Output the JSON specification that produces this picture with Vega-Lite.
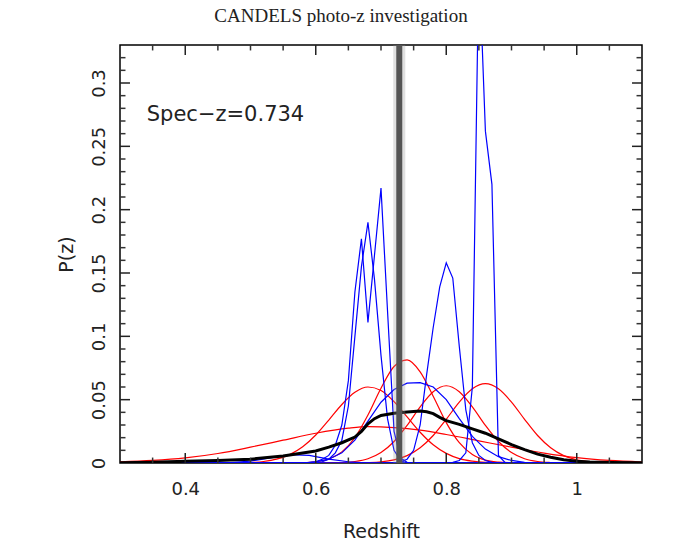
{
"$schema":"https://vega.github.io/schema/vega-lite/v6.json",
"width":522,"height":418,
"autosize":{"type":"none"},
"padding":{"left":120,"top":45,"right":31,"bottom":82},
"background":"white",
"title":{"text":"CANDELS photo-z investigation","font":"Liberation Serif","fontSize":19,"fontWeight":"normal","color":"#222","offset":13,"dx":-40},
"config":{"view":{"stroke":"black","strokeWidth":1.5},"axis":{"grid":false,"domain":false,"ticks":false,"tickSize":0,"labelFont":"DejaVu Sans","labelFontSize":18,"labelColor":"#222","titleFont":"DejaVu Sans","titleFontSize":19,"titleFontWeight":"normal","titleColor":"#222","labelFlush":false,"labelOverlap":false}},
"resolve":{"axis":{"x":"independent","y":"independent"}},
"datasets":{
"red":[
{"c":"r1","z":0.30,"p":0.001},{"c":"r1","z":0.35,"p":0.002},{"c":"r1","z":0.40,"p":0.004},{"c":"r1","z":0.45,"p":0.0075},{"c":"r1","z":0.50,"p":0.0125},{"c":"r1","z":0.55,"p":0.018},{"c":"r1","z":0.60,"p":0.0235},{"c":"r1","z":0.65,"p":0.0275},{"c":"r1","z":0.68,"p":0.0287},{"c":"r1","z":0.72,"p":0.028},{"c":"r1","z":0.76,"p":0.026},{"c":"r1","z":0.80,"p":0.0225},{"c":"r1","z":0.85,"p":0.0175},{"c":"r1","z":0.90,"p":0.0125},{"c":"r1","z":0.95,"p":0.0078},{"c":"r1","z":1.00,"p":0.0042},{"c":"r1","z":1.05,"p":0.002},{"c":"r1","z":1.10,"p":0.0008},
{"c":"r2","z":0.30,"p":0},{"c":"r2","z":0.46,"p":0},{"c":"r2","z":0.48,"p":0.0001},{"c":"r2","z":0.50,"p":0.0004},{"c":"r2","z":0.52,"p":0.0012},{"c":"r2","z":0.54,"p":0.003},{"c":"r2","z":0.56,"p":0.0066},{"c":"r2","z":0.58,"p":0.0128},{"c":"r2","z":0.60,"p":0.0221},{"c":"r2","z":0.62,"p":0.0339},{"c":"r2","z":0.64,"p":0.0462},{"c":"r2","z":0.66,"p":0.0558},{"c":"r2","z":0.68,"p":0.06},{"c":"r2","z":0.70,"p":0.0572},{"c":"r2","z":0.72,"p":0.0484},{"c":"r2","z":0.74,"p":0.0364},{"c":"r2","z":0.76,"p":0.0243},{"c":"r2","z":0.78,"p":0.0144},{"c":"r2","z":0.80,"p":0.0076},{"c":"r2","z":0.82,"p":0.0035},{"c":"r2","z":0.84,"p":0.0015},{"c":"r2","z":0.86,"p":0.0005},{"c":"r2","z":0.88,"p":0.0002},{"c":"r2","z":0.90,"p":0},{"c":"r2","z":1.10,"p":0},
{"c":"r3","z":0.30,"p":0},{"c":"r3","z":0.56,"p":0},{"c":"r3","z":0.58,"p":0.0002},{"c":"r3","z":0.60,"p":0.001},{"c":"r3","z":0.62,"p":0.0032},{"c":"r3","z":0.64,"p":0.0088},{"c":"r3","z":0.66,"p":0.0201},{"c":"r3","z":0.68,"p":0.0379},{"c":"r3","z":0.70,"p":0.059},{"c":"r3","z":0.72,"p":0.0762},{"c":"r3","z":0.74,"p":0.0814},{"c":"r3","z":0.76,"p":0.072},{"c":"r3","z":0.78,"p":0.0527},{"c":"r3","z":0.80,"p":0.0319},{"c":"r3","z":0.82,"p":0.016},{"c":"r3","z":0.84,"p":0.0067},{"c":"r3","z":0.86,"p":0.0023},{"c":"r3","z":0.88,"p":0.0007},{"c":"r3","z":0.90,"p":0.0002},{"c":"r3","z":0.92,"p":0},{"c":"r3","z":1.10,"p":0},
{"c":"r4","z":0.30,"p":0},{"c":"r4","z":0.60,"p":0},{"c":"r4","z":0.62,"p":0.0001},{"c":"r4","z":0.64,"p":0.0004},{"c":"r4","z":0.66,"p":0.0012},{"c":"r4","z":0.68,"p":0.0034},{"c":"r4","z":0.70,"p":0.0083},{"c":"r4","z":0.72,"p":0.017},{"c":"r4","z":0.74,"p":0.0297},{"c":"r4","z":0.76,"p":0.0443},{"c":"r4","z":0.78,"p":0.0563},{"c":"r4","z":0.80,"p":0.061},{"c":"r4","z":0.82,"p":0.0563},{"c":"r4","z":0.84,"p":0.0443},{"c":"r4","z":0.86,"p":0.0297},{"c":"r4","z":0.88,"p":0.017},{"c":"r4","z":0.90,"p":0.0083},{"c":"r4","z":0.92,"p":0.0034},{"c":"r4","z":0.94,"p":0.0012},{"c":"r4","z":0.96,"p":0.0004},{"c":"r4","z":0.98,"p":0.0001},{"c":"r4","z":1.00,"p":0},{"c":"r4","z":1.10,"p":0},
{"c":"r5","z":0.30,"p":0},{"c":"r5","z":0.64,"p":0},{"c":"r5","z":0.66,"p":0.0001},{"c":"r5","z":0.68,"p":0.0003},{"c":"r5","z":0.70,"p":0.0009},{"c":"r5","z":0.72,"p":0.0025},{"c":"r5","z":0.74,"p":0.0058},{"c":"r5","z":0.76,"p":0.012},{"c":"r5","z":0.78,"p":0.0217},{"c":"r5","z":0.80,"p":0.0345},{"c":"r5","z":0.82,"p":0.0481},{"c":"r5","z":0.84,"p":0.0586},{"c":"r5","z":0.86,"p":0.0626},{"c":"r5","z":0.88,"p":0.0586},{"c":"r5","z":0.90,"p":0.0481},{"c":"r5","z":0.92,"p":0.0345},{"c":"r5","z":0.94,"p":0.0217},{"c":"r5","z":0.96,"p":0.012},{"c":"r5","z":0.98,"p":0.0058},{"c":"r5","z":1.00,"p":0.0025},{"c":"r5","z":1.02,"p":0.0009},{"c":"r5","z":1.04,"p":0.0003},{"c":"r5","z":1.06,"p":0.0001},{"c":"r5","z":1.08,"p":0},{"c":"r5","z":1.10,"p":0}
],
"blue":[
{"c":"b1","z":0.30,"p":0},{"c":"b1","z":0.58,"p":0},{"c":"b1","z":0.60,"p":0.001},{"c":"b1","z":0.61,"p":0.003},{"c":"b1","z":0.62,"p":0.006},{"c":"b1","z":0.63,"p":0.014},{"c":"b1","z":0.64,"p":0.03},{"c":"b1","z":0.65,"p":0.065},{"c":"b1","z":0.66,"p":0.135},{"c":"b1","z":0.67,"p":0.177},{"c":"b1","z":0.68,"p":0.111},{"c":"b1","z":0.69,"p":0.164},{"c":"b1","z":0.70,"p":0.217},{"c":"b1","z":0.71,"p":0.12},{"c":"b1","z":0.72,"p":0.025},{"c":"b1","z":0.73,"p":0.004},{"c":"b1","z":0.74,"p":0.0005},{"c":"b1","z":0.75,"p":0},{"c":"b1","z":1.10,"p":0},
{"c":"b2","z":0.30,"p":0},{"c":"b2","z":0.60,"p":0},{"c":"b2","z":0.61,"p":0.001},{"c":"b2","z":0.62,"p":0.003},{"c":"b2","z":0.63,"p":0.008},{"c":"b2","z":0.64,"p":0.018},{"c":"b2","z":0.65,"p":0.045},{"c":"b2","z":0.66,"p":0.10},{"c":"b2","z":0.67,"p":0.155},{"c":"b2","z":0.68,"p":0.19},{"c":"b2","z":0.69,"p":0.145},{"c":"b2","z":0.70,"p":0.085},{"c":"b2","z":0.71,"p":0.035},{"c":"b2","z":0.72,"p":0.01},{"c":"b2","z":0.73,"p":0.002},{"c":"b2","z":0.74,"p":0},{"c":"b2","z":1.10,"p":0},
{"c":"b3","z":0.30,"p":0},{"c":"b3","z":0.72,"p":0},{"c":"b3","z":0.73,"p":0.001},{"c":"b3","z":0.74,"p":0.003},{"c":"b3","z":0.75,"p":0.01},{"c":"b3","z":0.76,"p":0.03},{"c":"b3","z":0.77,"p":0.07},{"c":"b3","z":0.78,"p":0.107},{"c":"b3","z":0.79,"p":0.139},{"c":"b3","z":0.80,"p":0.158},{"c":"b3","z":0.81,"p":0.146},{"c":"b3","z":0.82,"p":0.092},{"c":"b3","z":0.83,"p":0.042},{"c":"b3","z":0.84,"p":0.016},{"c":"b3","z":0.85,"p":0.006},{"c":"b3","z":0.86,"p":0.002},{"c":"b3","z":0.87,"p":0.0005},{"c":"b3","z":0.88,"p":0},{"c":"b3","z":1.10,"p":0},
{"c":"b4","z":0.30,"p":0},{"c":"b4","z":0.80,"p":0},{"c":"b4","z":0.81,"p":0.0005},{"c":"b4","z":0.82,"p":0.002},{"c":"b4","z":0.83,"p":0.008},{"c":"b4","z":0.84,"p":0.06},{"c":"b4","z":0.85,"p":0.40},{"c":"b4","z":0.86,"p":0.262},{"c":"b4","z":0.87,"p":0.22},{"c":"b4","z":0.88,"p":0.006},{"c":"b4","z":0.89,"p":0.0005},{"c":"b4","z":0.90,"p":0},{"c":"b4","z":1.10,"p":0},
{"c":"b5","z":0.30,"p":0},{"c":"b5","z":0.58,"p":0},{"c":"b5","z":0.60,"p":0.001},{"c":"b5","z":0.62,"p":0.003},{"c":"b5","z":0.64,"p":0.008},{"c":"b5","z":0.66,"p":0.018},{"c":"b5","z":0.68,"p":0.033},{"c":"b5","z":0.70,"p":0.048},{"c":"b5","z":0.72,"p":0.058},{"c":"b5","z":0.74,"p":0.063},{"c":"b5","z":0.76,"p":0.0635},{"c":"b5","z":0.78,"p":0.06},{"c":"b5","z":0.80,"p":0.05},{"c":"b5","z":0.82,"p":0.035},{"c":"b5","z":0.84,"p":0.021},{"c":"b5","z":0.86,"p":0.011},{"c":"b5","z":0.88,"p":0.005},{"c":"b5","z":0.90,"p":0.002},{"c":"b5","z":0.92,"p":0.0005},{"c":"b5","z":0.94,"p":0},{"c":"b5","z":1.10,"p":0},
{"c":"b6","z":0.30,"p":0},{"c":"b6","z":0.46,"p":0},{"c":"b6","z":0.50,"p":0.0015},{"c":"b6","z":0.53,"p":0.004},{"c":"b6","z":0.56,"p":0.0065},{"c":"b6","z":0.59,"p":0.006},{"c":"b6","z":0.62,"p":0.003},{"c":"b6","z":0.65,"p":0.001},{"c":"b6","z":0.68,"p":0},{"c":"b6","z":1.10,"p":0}
],
"black":[
{"z":0.30,"p":0.0002},{"z":0.35,"p":0.0006},{"z":0.40,"p":0.0013},{"z":0.45,"p":0.002},{"z":0.50,"p":0.003},{"z":0.55,"p":0.0055},{"z":0.60,"p":0.0095},{"z":0.62,"p":0.0125},{"z":0.64,"p":0.016},{"z":0.66,"p":0.0205},{"z":0.67,"p":0.025},{"z":0.68,"p":0.031},{"z":0.69,"p":0.035},{"z":0.70,"p":0.0375},{"z":0.72,"p":0.0392},{"z":0.74,"p":0.0402},{"z":0.76,"p":0.041},{"z":0.77,"p":0.0405},{"z":0.78,"p":0.039},{"z":0.79,"p":0.036},{"z":0.80,"p":0.0335},{"z":0.82,"p":0.0305},{"z":0.84,"p":0.027},{"z":0.86,"p":0.0235},{"z":0.88,"p":0.019},{"z":0.90,"p":0.0145},{"z":0.92,"p":0.0105},{"z":0.94,"p":0.007},{"z":0.96,"p":0.0045},{"z":0.98,"p":0.0025},{"z":1.00,"p":0.0013},{"z":1.02,"p":0.0007},{"z":1.05,"p":0.0003},{"z":1.10,"p":0.0001}
],
"xmaj":[{"v":0.4},{"v":0.6},{"v":0.8},{"v":1.0}],
"xmin":[{"v":0.35},{"v":0.45},{"v":0.5},{"v":0.55},{"v":0.65},{"v":0.7},{"v":0.75},{"v":0.85},{"v":0.9},{"v":0.95},{"v":1.05}],
"ymaj":[{"v":0.05},{"v":0.1},{"v":0.15},{"v":0.2},{"v":0.25},{"v":0.3}],
"ymin":[{"v":0.01},{"v":0.02},{"v":0.03},{"v":0.04},{"v":0.06},{"v":0.07},{"v":0.08},{"v":0.09},{"v":0.11},{"v":0.12},{"v":0.13},{"v":0.14},{"v":0.16},{"v":0.17},{"v":0.18},{"v":0.19},{"v":0.21},{"v":0.22},{"v":0.23},{"v":0.24},{"v":0.26},{"v":0.27},{"v":0.28},{"v":0.29},{"v":0.31},{"v":0.32}],
"specz":[{"z":0.728,"t":"Spec−z=0.734","tx":0.341,"ty":0.275}]
},
"layer":[
{"data":{"name":"red"},"mark":{"type":"line","color":"#ff0000","strokeWidth":1.2,"interpolate":"monotone","clip":true},
 "encoding":{
  "x":{"field":"z","type":"quantitative","scale":{"domain":[0.3,1.1],"nice":false,"zero":false},"axis":{"orient":"bottom","values":[0.4,0.6,0.8,1],"format":"~g","labelPadding":17,"title":"Redshift","titlePadding":24}},
  "y":{"field":"p","type":"quantitative","scale":{"domain":[0,0.33],"nice":false,"zero":false},"axis":{"orient":"left","values":[0,0.05,0.1,0.15,0.2,0.25,0.3],"format":"~g","labelAngle":270,"labelAlign":"center","labelBaseline":"alphabetic","labelPadding":16,"title":"P(z)","titlePadding":14}},
  "detail":{"field":"c"}}},
{"data":{"name":"blue"},"mark":{"type":"line","color":"#0000ff","strokeWidth":1.2,"clip":true},
 "encoding":{"x":{"field":"z","type":"quantitative","axis":null},"y":{"field":"p","type":"quantitative","axis":null},"detail":{"field":"c"}}},
{"data":{"name":"black"},"mark":{"type":"line","color":"#000000","strokeWidth":3,"clip":true},
 "encoding":{"x":{"field":"z","type":"quantitative","axis":null},"y":{"field":"p","type":"quantitative","axis":null}}},
{"data":{"name":"xmaj"},"mark":{"type":"rule","color":"#222222","strokeWidth":1.5},
 "encoding":{"x":{"field":"v","type":"quantitative","axis":null},"y":{"datum":0,"type":"quantitative","axis":null},"y2":{"datum":0.0079}}},
{"data":{"name":"xmaj"},"mark":{"type":"rule","color":"#222222","strokeWidth":1.5},
 "encoding":{"x":{"field":"v","type":"quantitative","axis":null},"y":{"datum":0.33,"type":"quantitative","axis":null},"y2":{"datum":0.3221}}},
{"data":{"name":"xmin"},"mark":{"type":"rule","color":"#333333","strokeWidth":1.5},
 "encoding":{"x":{"field":"v","type":"quantitative","axis":null},"y":{"datum":0,"type":"quantitative","axis":null},"y2":{"datum":0.0043}}},
{"data":{"name":"xmin"},"mark":{"type":"rule","color":"#333333","strokeWidth":1.5},
 "encoding":{"x":{"field":"v","type":"quantitative","axis":null},"y":{"datum":0.33,"type":"quantitative","axis":null},"y2":{"datum":0.3257}}},
{"data":{"name":"ymaj"},"mark":{"type":"rule","color":"#222222","strokeWidth":1.5},
 "encoding":{"y":{"field":"v","type":"quantitative","axis":null},"x":{"datum":0.3,"type":"quantitative","axis":null},"x2":{"datum":0.3153}}},
{"data":{"name":"ymaj"},"mark":{"type":"rule","color":"#222222","strokeWidth":1.5},
 "encoding":{"y":{"field":"v","type":"quantitative","axis":null},"x":{"datum":1.1,"type":"quantitative","axis":null},"x2":{"datum":1.0847}}},
{"data":{"name":"ymin"},"mark":{"type":"rule","color":"#333333","strokeWidth":1.5},
 "encoding":{"y":{"field":"v","type":"quantitative","axis":null},"x":{"datum":0.3,"type":"quantitative","axis":null},"x2":{"datum":0.3084}}},
{"data":{"name":"ymin"},"mark":{"type":"rule","color":"#333333","strokeWidth":1.5},
 "encoding":{"y":{"field":"v","type":"quantitative","axis":null},"x":{"datum":1.1,"type":"quantitative","axis":null},"x2":{"datum":1.0916}}},
{"data":{"name":"specz"},"mark":{"type":"rule","color":"#999999","strokeWidth":12,"opacity":0.3},
 "encoding":{"x":{"field":"z","type":"quantitative","axis":null}}},
{"data":{"name":"specz"},"mark":{"type":"rule","color":"#555555","strokeWidth":6},
 "encoding":{"x":{"field":"z","type":"quantitative","axis":null}}},
{"data":{"name":"specz"},"mark":{"type":"text","align":"left","baseline":"middle","font":"DejaVu Sans","fontSize":21,"color":"#222"},
 "encoding":{"x":{"field":"tx","type":"quantitative","axis":null},"y":{"field":"ty","type":"quantitative","axis":null},"text":{"field":"t"}}}
]
}
